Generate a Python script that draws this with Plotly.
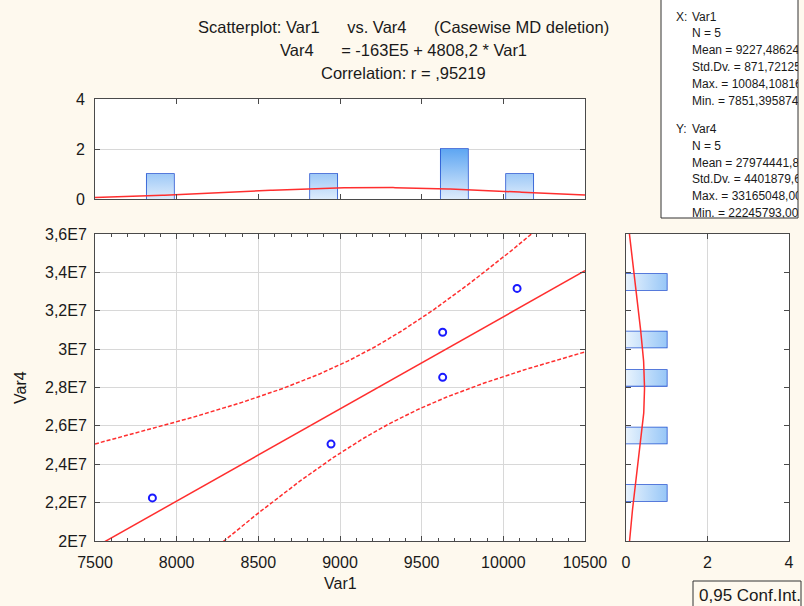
import numpy as np
import plotly.graph_objects as go

# ---------------- data ----------------
var1 = [7851.40, 8945.0, 9628.5, 9628.5, 10084.11]
var4 = [22245793, 25050000, 30880000, 28530000, 33165048]

x_tickvals = [7500, 8000, 8500, 9000, 9500, 10000, 10500]
x_ticktext = ["7500", "8000", "8500", "9000", "9500", "10000", "10500"]
y_tickvals = [2.0e7, 2.2e7, 2.4e7, 2.6e7, 2.8e7, 3.0e7, 3.2e7, 3.4e7, 3.6e7]
y_ticktext = ["2E7", "2,2E7", "2,4E7", "2,6E7", "2,8E7", "3E7", "3,2E7", "3,4E7", "3,6E7"]
count_ticks = [0, 2, 4]

title_lines = [
    "Scatterplot: Var1" + "\u00a0" * 6 + "vs. Var4" + "\u00a0" * 6 + "(Casewise MD deletion)",
    "Var4" + "\u00a0" * 6 + "= -163E5 + 4808,2 * Var1",
    "Correlation: r = ,95219",
]
stats_x = ["N = 5", "Mean = 9227,486243", "Std.Dv. = 871,721253",
           "Max. = 10084,108160", "Min. = 7851,395874"]
stats_y = ["N = 5", "Mean = 27974441,80", "Std.Dv. = 4401879,60",
           "Max. = 33165048,00", "Min. = 22245793,00"]

X_BIN = 200
X_BIN_START, X_BIN_END = 7600, 10600
Y_BIN = 1.0e6
Y_BIN_START, Y_BIN_END = 2.0e7, 3.6e7
BARGAP = 0.17
T_975_DF3 = 3.182446  # Student t quantile, 95% two-sided, df = n-2 = 3

# ---------------- computations ----------------
x = np.array(var1, float)
y = np.array(var4, float)
n = len(x)
slope, intercept = np.polyfit(x, y, 1)
xbar, ybar = x.mean(), y.mean()
sxx = ((x - xbar) ** 2).sum()
resid = y - (intercept + slope * x)
s = np.sqrt((resid ** 2).sum() / (n - 2))

xg = np.linspace(x_tickvals[0], x_tickvals[-1], 241)
yfit = intercept + slope * xg
half = T_975_DF3 * s * np.sqrt(1.0 / n + (xg - xbar) ** 2 / sxx)

sdx = x.std(ddof=1)
sdy = y.std(ddof=1)
dens_x = n * X_BIN * np.exp(-0.5 * ((xg - xbar) / sdx) ** 2) / (sdx * np.sqrt(2 * np.pi))
yg = np.linspace(y_tickvals[0], y_tickvals[-1], 241)
dens_y = n * Y_BIN * np.exp(-0.5 * ((yg - ybar) / sdy) ** 2) / (sdy * np.sqrt(2 * np.pi))


def bar_polygons(values, start, end, size):
    """Closed rectangles (separated by None) for the gradient fill under each histogram bar."""
    edges = np.arange(start, end + size / 2, size)
    counts, _ = np.histogram(values, bins=edges)
    pos, cnt = [], []
    for lo, c in zip(edges[:-1], counts):
        if c == 0:
            continue
        a = lo + size * BARGAP / 2
        b = lo + size * (1 - BARGAP / 2)
        pos += [a, a, b, b, a, None]
        cnt += [0, c, c, 0, 0, None]
    return pos, cnt, counts.max()


# ---------------- figure ----------------
W, H = 804, 606
def fx(px):
    return px / W
def fy(py):
    return 1 - py / H

FONT = "Liberation Sans, Arial, sans-serif"
TXT = "#1a1a1a"
RED = "#ff2e2e"
BAR_LINE = "#1f4fd0"
GRID = "#d8d8d8"
AX = "#4a4a4a"
BG = "#fef9ee"
LIGHT = "#deecfc"
DARK = "#5ea6f2"

fig = go.Figure()

# main scatter
fig.add_trace(go.Scatter(x=xg, y=yfit, mode="lines", line=dict(color=RED, width=1.5),
                         xaxis="x", yaxis="y", hoverinfo="skip"))
fig.add_trace(go.Scatter(x=xg, y=yfit + half, mode="lines",
                         line=dict(color=RED, width=1.5, dash="4px,2px"),
                         xaxis="x", yaxis="y", hoverinfo="skip"))
fig.add_trace(go.Scatter(x=xg, y=yfit - half, mode="lines",
                         line=dict(color=RED, width=1.5, dash="4px,2px"),
                         xaxis="x", yaxis="y", hoverinfo="skip"))
fig.add_trace(go.Scatter(x=var1, y=var4, mode="markers",
                         marker=dict(symbol="circle-open", size=7, color="#1a1aff",
                                     line=dict(width=2, color="#1a1aff")),
                         xaxis="x", yaxis="y"))

# top histogram: gradient fill, then outlined bars, then normal curve
px_, pc_, cmax_x = bar_polygons(var1, X_BIN_START, X_BIN_END, X_BIN)
fig.add_trace(go.Scatter(x=px_, y=pc_, mode="lines", fill="toself", line=dict(width=0),
                         fillgradient=dict(type="vertical", start=0, stop=2,
                                           colorscale=[[0, LIGHT], [1, DARK]]),
                         xaxis="x2", yaxis="y2", hoverinfo="skip"))
fig.add_trace(go.Histogram(x=var1, xbins=dict(start=X_BIN_START, end=X_BIN_END, size=X_BIN),
                           marker=dict(color="rgba(0,0,0,0)", line=dict(color=BAR_LINE, width=1.6)),
                           xaxis="x2", yaxis="y2"))
fig.add_trace(go.Scatter(x=xg, y=dens_x, mode="lines", line=dict(color=RED, width=1.5),
                         xaxis="x2", yaxis="y2", hoverinfo="skip"))

# right histogram
py_, pcy_, cmax_y = bar_polygons(var4, Y_BIN_START, Y_BIN_END, Y_BIN)
fig.add_trace(go.Scatter(x=pcy_, y=py_, mode="lines", fill="toself", line=dict(width=0),
                         fillgradient=dict(type="horizontal", start=0, stop=1,
                                           colorscale=[[0, "#e8f3fd"], [1, "#98c7f7"]]),
                         xaxis="x3", yaxis="y3", hoverinfo="skip"))
fig.add_trace(go.Histogram(y=var4, ybins=dict(start=Y_BIN_START, end=Y_BIN_END, size=Y_BIN),
                           marker=dict(color="rgba(0,0,0,0)", line=dict(color=BAR_LINE, width=1.6)),
                           xaxis="x3", yaxis="y3"))
fig.add_trace(go.Scatter(x=dens_y, y=yg, mode="lines", line=dict(color=RED, width=1.5),
                         xaxis="x3", yaxis="y3", hoverinfo="skip"))

# stats box text (clipped by its own axes, as in the original window)
box_w, box_h = 798 - 661, 218
lines_x, lines_y, lines_t = [], [], []
row = 17.5
lines_x += [15, 31]; lines_y += [row, row]; lines_t += ["X:", "Var1"]
for i, t in enumerate(stats_x):
    lines_x.append(31); lines_y.append(row + 16.8 * (i + 1)); lines_t.append(t)
row = 130
lines_x += [15, 31]; lines_y += [row, row]; lines_t += ["Y:", "Var4"]
for i, t in enumerate(stats_y):
    lines_x.append(31); lines_y.append(row + 16.8 * (i + 1)); lines_t.append(t)
fig.add_trace(go.Scatter(x=lines_x, y=lines_y, text=lines_t, mode="text",
                         textposition="middle right", cliponaxis=True,
                         textfont=dict(family=FONT, size=12, color=TXT),
                         xaxis="x4", yaxis="y4", hoverinfo="skip"))

tickfont = dict(family=FONT, size=16, color=TXT)
common = dict(showline=True, linecolor=AX, linewidth=1, mirror="ticks",
              ticks="inside", ticklen=5, tickcolor=AX, zeroline=False, automargin=False)

fig.update_layout(
    template="none",
    width=W, height=H, autosize=False,
    margin=dict(l=0, r=0, t=0, b=0, pad=0, autoexpand=False),
    paper_bgcolor=BG, plot_bgcolor="white",
    showlegend=False, bargap=BARGAP,
    font=dict(family=FONT, color=TXT),
    xaxis=dict(domain=[fx(95), fx(585)], range=[7500, 10500], anchor="y",
               tickvals=x_tickvals, ticktext=x_ticktext, tickfont=tickfont,
               showgrid=True, gridcolor=GRID, ticklabelstandoff=7,
               minor=dict(dtick=100, ticks="inside", ticklen=3, tickcolor=AX, showgrid=False),
               **common),
    yaxis=dict(domain=[fy(541), fy(234)], range=[2.0e7, 3.6e7], anchor="x",
               tickvals=y_tickvals, ticktext=y_ticktext, tickfont=tickfont,
               showgrid=True, gridcolor=GRID, ticklabelstandoff=4, **common),
    xaxis2=dict(domain=[fx(95), fx(585)], matches="x", anchor="y2",
                tickvals=x_tickvals, showticklabels=False, showgrid=False, **common),
    yaxis2=dict(domain=[fy(199), fy(99)], range=[0, 4], anchor="x2",
                tickvals=count_ticks, tickfont=tickfont, showgrid=True, gridcolor=GRID,
                ticklabelstandoff=6, **common),
    xaxis3=dict(domain=[fx(626), fx(789)], range=[0, 4], anchor="y3",
                tickvals=count_ticks, tickfont=tickfont, showgrid=True, gridcolor=GRID,
                ticklabelstandoff=7, **common),
    yaxis3=dict(domain=[fy(541), fy(234)], matches="y", anchor="x3",
                tickvals=y_tickvals, showticklabels=False, showgrid=False, **common),
    xaxis4=dict(domain=[fx(661), fx(798)], range=[0, box_w], anchor="y4", visible=False,
                automargin=False),
    yaxis4=dict(domain=[fy(218), 1], range=[box_h, 0], anchor="x4", visible=False,
                automargin=False),
)

# title lines
for i, t in enumerate(title_lines):
    fig.add_annotation(text=t, x=fx(403), y=fy(27 + 23 * i), xref="paper", yref="paper",
                       xanchor="center", yanchor="middle", showarrow=False,
                       font=dict(family=FONT, size=16.5, color=TXT))

# axis titles
fig.add_annotation(text="Var1", x=fx(340), y=fy(583), xref="paper", yref="paper",
                   xanchor="center", yanchor="middle", showarrow=False,
                   font=dict(family=FONT, size=16, color=TXT))
fig.add_annotation(text="Var4", x=fx(20), y=fy(388), xref="paper", yref="paper",
                   xanchor="center", yanchor="middle", showarrow=False, textangle=-90,
                   font=dict(family=FONT, size=16, color=TXT))

# stats box frame and conf. int. legend box
fig.add_shape(type="rect", xref="paper", yref="paper",
              x0=fx(661), x1=fx(798), y0=fy(218), y1=fy(-10),
              line=dict(color="#333333", width=1), fillcolor="rgba(0,0,0,0)")
fig.add_shape(type="rect", xref="paper", yref="paper",
              x0=fx(693), x1=fx(801), y0=fy(615), y1=fy(581),
              line=dict(color="#333333", width=1), fillcolor="rgba(0,0,0,0)")
fig.add_annotation(text="0,95 Conf.Int.", x=fx(697), y=fy(595), xref="paper", yref="paper",
                   xanchor="left", yanchor="middle", showarrow=False,
                   font=dict(family=FONT, size=17, color=TXT))

fig.write_html("out.html", config={"displayModeBar": False},
               post_script="document.body.style.margin='0';")
